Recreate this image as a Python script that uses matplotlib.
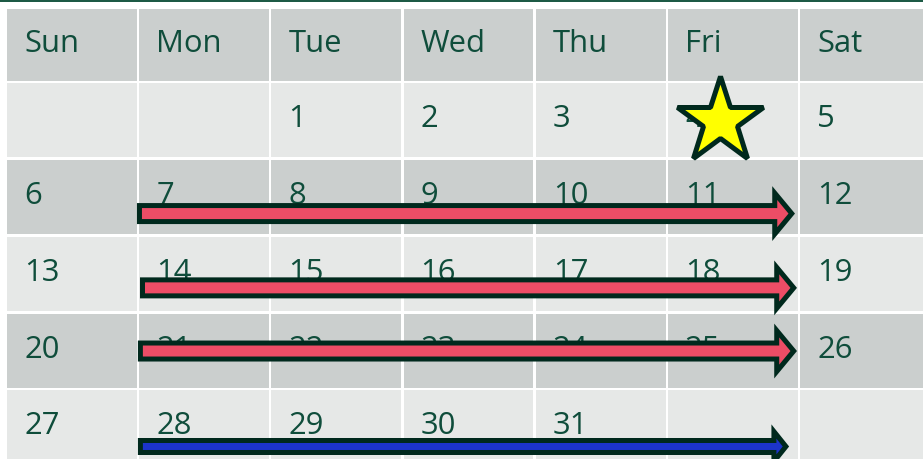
import matplotlib
matplotlib.use("Agg")
import matplotlib.pyplot as plt
from matplotlib.patches import Rectangle, FancyArrow

# ---------------- data ----------------
day_names = ["Sun", "Mon", "Tue", "Wed", "Thu", "Fri", "Sat"]
first_col = 2            # the 1st falls on a Tuesday
n_days = 31
dark_week_rows = [2, 4]  # week rows (1-based) shaded darker, like the header

# arrows: week row, start/end (in column units), colour kind
arrow_rows = [2, 3, 4, 5]
arrow_from = [0.983, 1.006, 0.990, 0.990]
arrow_to = [5.961, 5.976, 5.976, 5.917]
arrow_kind = ["red", "red", "red", "blue"]
star_day = 4

# ---------------- style / layout ----------------
W, H, DPI = 923, 459, 100
X0, CP, CW = 7.0, 132.2, 129.8          # column origin, pitch, width (px)
HEAD_TOP, HEAD_H = 9.0, 72.0            # header row
R0, RP, RH = 82.8, 76.9, 74.3           # week rows origin, pitch, height
DARK, LIGHT = "#cbcfce", "#e6e8e7"
TEXT = "#0f4d3b"
OUTLINE = "#00291d"
ARROW_Y_FRAC = {2: 0.725, 3: 0.69, 4: 0.505, 5: 0.755}
ARROW_STYLE = {
    "red": dict(fc="#ec4d66", width=16, head_width=41, head_length=17),
    "blue": dict(fc="#1c34cb", width=12, head_width=30, head_length=12),
}
LW_PX = 5.0
PX = 72.0 / DPI  # points per pixel

fig = plt.figure(figsize=(W / DPI, H / DPI), dpi=DPI)
ax = fig.add_axes([0, 0, 1, 1])
ax.set_xlim(0, W)
ax.set_ylim(H, 0)
ax.axis("off")


def col_x(c):
    return X0 + CP * c


def row_top(r):
    return HEAD_TOP if r == 0 else R0 + RP * (r - 1)


def row_h(r):
    return HEAD_H if r == 0 else RH


n_rows = (first_col + n_days + 6) // 7

# top rule
ax.axhspan(0, 2.4, color="#1d5a45", lw=0, zorder=1)

# cells
for r in range(n_rows + 1):
    shade = DARK if (r == 0 or r in dark_week_rows) else LIGHT
    for c in range(7):
        ax.add_patch(Rectangle((col_x(c), row_top(r)), CW, row_h(r),
                               fc=shade, ec="none", zorder=1))

font = dict(family=["Open Sans", "DejaVu Sans"], fontsize=31 * PX,
            color=TEXT, va="baseline", ha="left", zorder=2)

# header
for c, name in enumerate(day_names):
    ax.text(col_x(c) + 17, row_top(0) + 43, name, **font)

# day numbers
for d in range(1, n_days + 1):
    idx = first_col + d - 1
    r, c = idx // 7 + 1, idx % 7
    ax.text(col_x(c) + 17, row_top(r) + 44, str(d), **font)

# arrows
for r, a0, a1, kind in zip(arrow_rows, arrow_from, arrow_to, arrow_kind):
    st = ARROW_STYLE[kind]
    y = row_top(r) + ARROW_Y_FRAC[r] * RH
    x_start = col_x(a0) + LW_PX / 2
    x_tip = col_x(a1) - 3.3
    ax.add_patch(FancyArrow(x_start, y, x_tip - x_start, 0,
                            width=st["width"], head_width=st["head_width"],
                            head_length=st["head_length"],
                            length_includes_head=True,
                            fc=st["fc"], ec=OUTLINE, lw=LW_PX * PX,
                            joinstyle="miter", zorder=4))

# star on the given day
sidx = first_col + star_day - 1
sr, sc = sidx // 7 + 1, sidx % 7
ax.plot([col_x(sc) + 52], [row_top(sr) + 38.0], marker="*",
        ms=2 * 45.5 * PX, mfc="#ffff00", mec=OUTLINE, mew=LW_PX * PX,
        zorder=5, clip_on=False)

fig.savefig("out.png", dpi=DPI, facecolor="white")
